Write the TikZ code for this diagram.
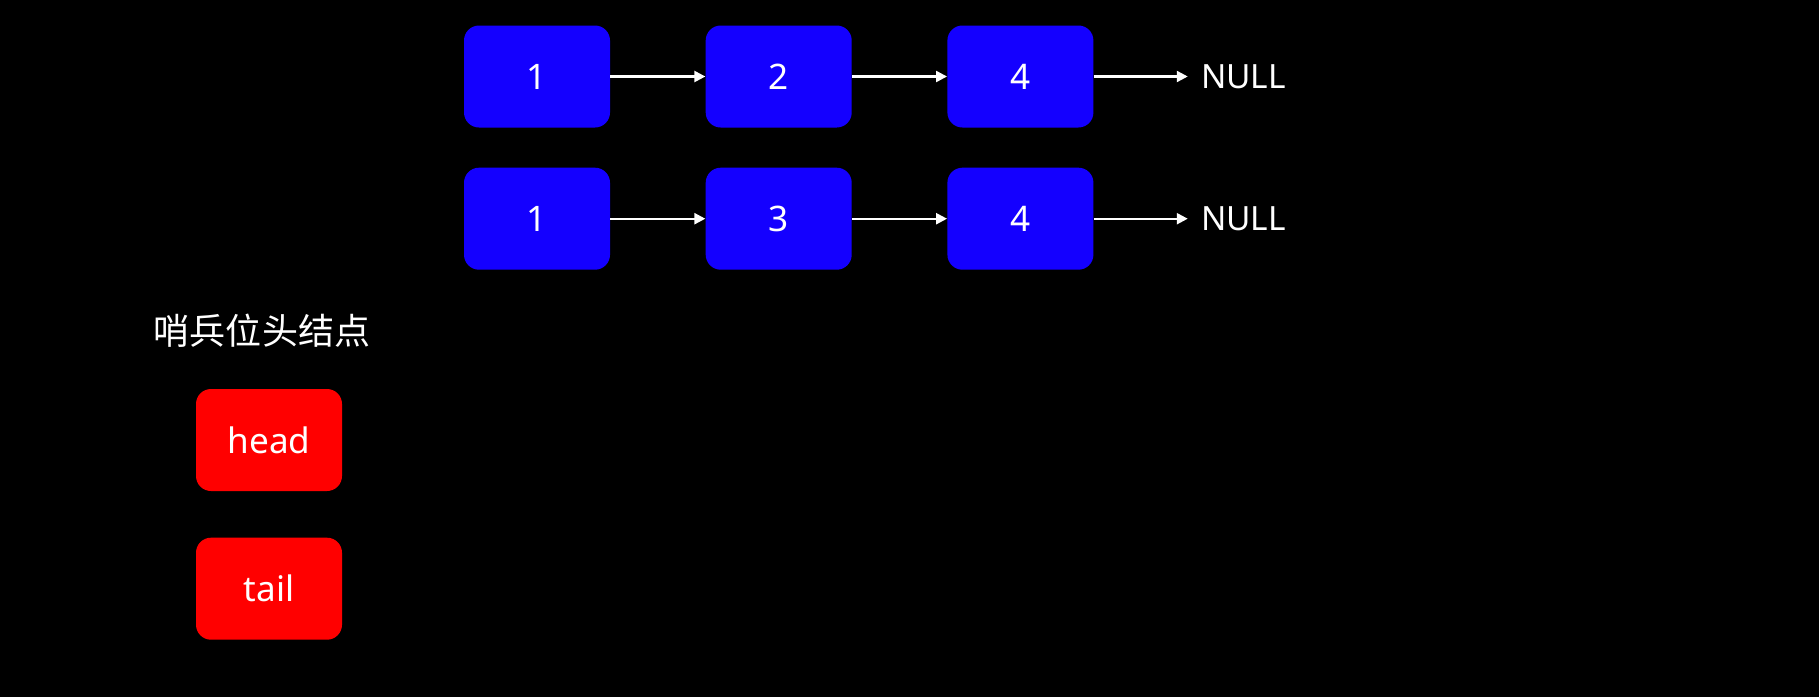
\documentclass[tikz,border=0pt]{standalone}
\usepackage{fontspec}
\setmainfont{Noto Sans}
\newfontfamily\cjkfont{Noto Sans CJK SC}
\usetikzlibrary{arrows.meta, positioning}
\definecolor{listblue}{RGB}{20,0,255}
\definecolor{sentred}{RGB}{255,0,0}

\begin{document}
\begin{tikzpicture}[
  node distance=0.79cm and 1.9cm,
  lnode/.style={rectangle, fill=listblue, minimum width=2.92cm, minimum height=2.04cm, rounded corners=0.3cm, inner sep=0pt, text=white, font=\fontsize{20}{24}\selectfont},
  snode/.style={lnode, fill=sentred},
  nulltxt/.style={inner xsep=0.26cm, inner ysep=0pt, text=white, font=\fontsize{19}{22}\selectfont},
  arrow/.style={-{Triangle[length=2.2mm, width=2.2mm]}, line width=1.3pt, white}
]
  \fill[black] (0,0) rectangle (36.38,-13.94);

  % first list
  \node[lnode] (a1) at (10.74,-1.53) {1};
  \node[lnode, right=of a1] (a2) {2};
  \node[lnode, right=of a2] (a4) {4};
  \node[nulltxt, right=1.88cm of a4] (anull) {NULL};

  % second list
  \node[lnode, below=of a1] (b1) {1};
  \node[lnode, right=of b1] (b3) {3};
  \node[lnode, right=of b3] (b4) {4};
  \node[nulltxt, right=1.88cm of b4] (bnull) {NULL};

  \draw[arrow] (a1) -- (a2);
  \draw[arrow] (a2) -- (a4);
  \draw[arrow] (a4) -- (anull);
  \draw[arrow] (b1) -- (b3);
  \draw[arrow] (b3) -- (b4);
  \draw[arrow] (b4) -- (bnull);

  % sentinel nodes
  \node[text=white, font=\cjkfont\fontsize{20.5}{24}\selectfont] (title) at (5.24,-6.61) {哨兵位头结点};
  \node[snode] (head) at (5.38,-8.80) {head};
  \node[snode, below=0.92cm of head] (tail) {tail};

\end{tikzpicture}
\end{document}
